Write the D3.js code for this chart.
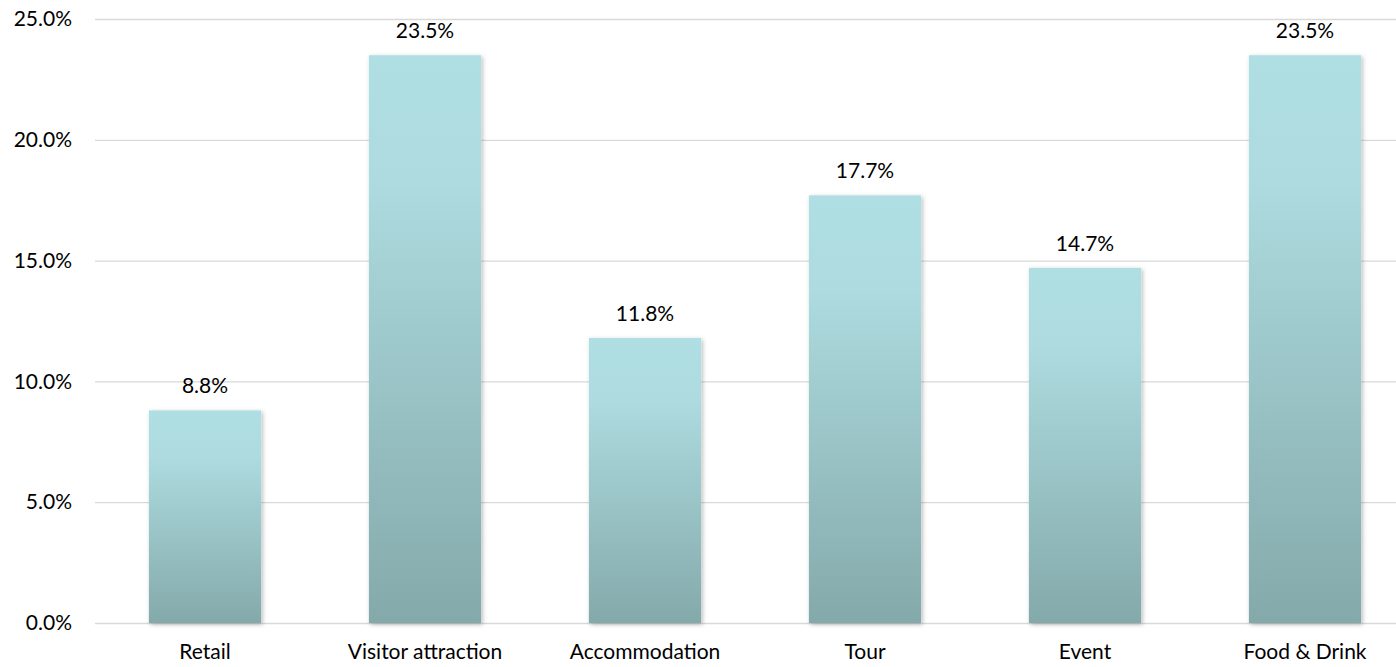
<!DOCTYPE html>
<html>
<head>
<meta charset="utf-8">
<script src="https://cdn.jsdelivr.net/npm/d3@7/dist/d3.min.js"></script>
<style>
  html, body { margin: 0; padding: 0; background: #ffffff; }
  svg { display: block; }
  text { font-family: Lato, "Open Sans", "Liberation Sans", sans-serif; fill: #000; }
</style>
</head>
<body>
<svg id="chart" width="1396" height="667"></svg>
<script>
// Share of businesses by sector
const categories = ["Retail", "Visitor attraction", "Accommodation", "Tour", "Event", "Food & Drink"];
const shares = [8.8, 23.5, 11.8, 17.7, 14.7, 23.5];
const yTicks = [0, 5, 10, 15, 20, 25];

const svg = d3.select("#chart");
const plot = { left: 95, right: 1415, top: 19, bottom: 623 };
const fontSize = 21;

const x = d3.scaleBand()
  .domain(categories)
  .range([plot.left, plot.right])
  .paddingInner(0.49)
  .paddingOuter(0.245);

const y = d3.scaleLinear()
  .domain([0, 25])
  .range([plot.bottom, plot.top]);

const defs = svg.append("defs");
const grad = defs.append("linearGradient")
  .attr("id", "barFill")
  .attr("x1", 0).attr("y1", 0).attr("x2", 0).attr("y2", 1);
grad.append("stop").attr("offset", "0%").attr("stop-color", "#b0dfe3");
grad.append("stop").attr("offset", "22%").attr("stop-color", "#addbdf");
grad.append("stop").attr("offset", "100%").attr("stop-color", "#84a9aa");

const shadow = defs.append("filter")
  .attr("id", "barShadow")
  .attr("x", "-10%").attr("y", "-10%").attr("width", "130%").attr("height", "120%");
shadow.append("feDropShadow")
  .attr("dx", 1.5).attr("dy", 1.5).attr("stdDeviation", 2)
  .attr("flood-color", "#000").attr("flood-opacity", 0.28);

// horizontal gridlines and percentage labels
const yAxis = d3.axisLeft(y)
  .tickValues(yTicks)
  .tickSize(-(plot.right - plot.left))
  .tickPadding(23)
  .tickFormat(d => d.toFixed(1) + "%");

const gy = svg.append("g")
  .attr("transform", `translate(${plot.left},0)`)
  .call(yAxis);
gy.select(".domain").remove();
gy.selectAll(".tick line").attr("stroke", "#d9d9d9").attr("stroke-width", 1.3);
gy.selectAll(".tick text")
  .attr("font-size", fontSize)
  .attr("fill", "#000")
  .attr("font-family", "Lato, 'Open Sans', sans-serif");

// bars
svg.append("g").selectAll("rect")
  .data(categories)
  .join("rect")
  .attr("x", d => x(d))
  .attr("width", x.bandwidth())
  .attr("y", (d, i) => y(shares[i]))
  .attr("height", (d, i) => y(0) - y(shares[i]))
  .attr("fill", "url(#barFill)")
  .attr("filter", "url(#barShadow)");

// value labels
svg.append("g").selectAll("text")
  .data(categories)
  .join("text")
  .attr("x", d => x(d) + x.bandwidth() / 2)
  .attr("y", (d, i) => y(shares[i]) - 17)
  .attr("text-anchor", "middle")
  .attr("font-size", fontSize)
  .text((d, i) => shares[i].toFixed(1) + "%");

// category axis
const xAxis = d3.axisBottom(x).tickSize(0).tickPadding(21);
const gx = svg.append("g")
  .attr("transform", `translate(0,${plot.bottom})`)
  .call(xAxis);
gx.select(".domain").remove();
gx.selectAll(".tick text")
  .attr("font-size", fontSize)
  .attr("fill", "#000")
  .attr("font-family", "Lato, 'Open Sans', sans-serif");
</script>
</body>
</html>
